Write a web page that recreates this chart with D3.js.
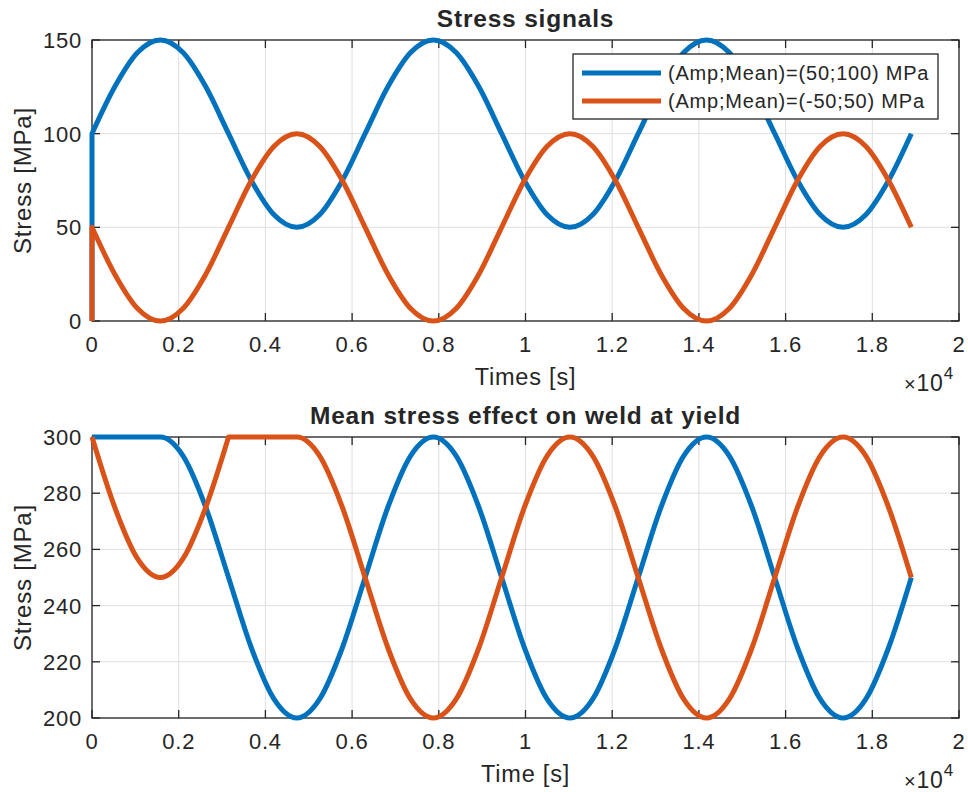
<!DOCTYPE html>
<html lang="en">
  <head>
    <meta charset="utf-8" />
    <title>Stress signals</title>
    <script src="https://d3js.org/d3.v7.min.js"></script>
    <style>
      body { margin: 0; background: #fff; }
      text { font-family: "Liberation Sans", Arial, Helvetica, sans-serif; fill: #262626; letter-spacing: 0.8px; }
    </style>
  </head>
  <body>
    <script type="text/javascript">
      // sample times [s]
      const times = [0, 525, 1050, 1575, 2100, 2625, 3150, 3675, 4200, 4725, 5250, 5775,
        6300, 6825, 7350, 7875, 8400, 8925, 9450, 9975, 10500, 11025, 11550, 12075,
        12600, 13125, 13650, 14175, 14700, 15225, 15750, 16275, 16800, 17325, 17850, 18375, 18900];

      // top plot starts with a jump at t = 0
      const timesTop = [0].concat(times);

      const topBlue = [0, 100, 125, 143.3, 150, 143.3, 125, 100, 75, 56.7, 50, 56.7, 75,
        100, 125, 143.3, 150, 143.3, 125, 100, 75, 56.7, 50, 56.7, 75,
        100, 125, 143.3, 150, 143.3, 125, 100, 75, 56.7, 50, 56.7, 75, 100];
      const topOrange = [0, 50, 25, 6.7, 0, 6.7, 25, 50, 75, 93.3, 100, 93.3, 75,
        50, 25, 6.7, 0, 6.7, 25, 50, 75, 93.3, 100, 93.3, 75,
        50, 25, 6.7, 0, 6.7, 25, 50, 75, 93.3, 100, 93.3, 75, 50];

      const bottomBlue = [300, 300, 300, 300, 293.3, 275, 250, 225, 206.7, 200, 206.7, 225,
        250, 275, 293.3, 300, 293.3, 275, 250, 225, 206.7, 200, 206.7, 225,
        250, 275, 293.3, 300, 293.3, 275, 250, 225, 206.7, 200, 206.7, 225, 250];
      const bottomOrange = [300, 275, 256.7, 250, 256.7, 275, 300, 300, 300, 300, 293.3, 275,
        250, 225, 206.7, 200, 206.7, 225, 250, 275, 293.3, 300, 293.3, 275,
        250, 225, 206.7, 200, 206.7, 225, 250, 275, 293.3, 300, 293.3, 275, 250];

      const xTicks = [0, 2000, 4000, 6000, 8000, 10000, 12000, 14000, 16000, 18000, 20000];
      const xTickLabels = ["0", "0.2", "0.4", "0.6", "0.8", "1", "1.2", "1.4", "1.6", "1.8", "2"];
      const yTicksTop = [0, 50, 100, 150];
      const yTicksBottom = [200, 220, 240, 260, 280, 300];
      const legendLabels = ["(Amp;Mean)=(50;100) MPa", "(Amp;Mean)=(-50;50) MPa"];

      const blue = "#0072bd";
      const orange = "#d95319";

      const w = 968;
      const h = 792;
      const left = 92;
      const right = 959;

      const svg = d3.select("body").append("svg").attr("width", w).attr("height", h);

      const x = d3.scaleLinear().domain([0, 20000]).range([left, right]);

      // smooth line, broken at given indices (jumps / corners)
      function linePath(ts, vs, y, breaks) {
        const pts = ts.map((t, i) => [x(t), y(vs[i])]);
        const line = d3.line().curve(d3.curveMonotoneX);
        const cuts = [0].concat(breaks, [pts.length - 1]);
        let d = "";
        for (let i = 0; i < cuts.length - 1; i++) {
          const s = line(pts.slice(cuts[i], cuts[i + 1] + 1));
          d += i === 0 ? s : "L" + s.slice(1);
        }
        return d;
      }

      function drawAxes(top, bottom, yDomain, yTicks, title, xLabel, yLabel) {
        const y = d3.scaleLinear().domain(yDomain).range([bottom, top]);
        const g = svg.append("g");

        // grid
        g.selectAll(".gx").data(xTicks).enter().append("line")
          .attr("x1", (d) => x(d)).attr("x2", (d) => x(d))
          .attr("y1", top).attr("y2", bottom)
          .attr("stroke", "#dfdfdf").attr("stroke-width", 1);
        g.selectAll(".gy").data(yTicks).enter().append("line")
          .attr("x1", left).attr("x2", right)
          .attr("y1", (d) => y(d)).attr("y2", (d) => y(d))
          .attr("stroke", "#dfdfdf").attr("stroke-width", 1);

        // axes box
        g.append("rect")
          .attr("x", left).attr("y", top)
          .attr("width", right - left).attr("height", bottom - top)
          .attr("fill", "none").attr("stroke", "#262626").attr("stroke-width", 1.3);

        // inward ticks on all four sides
        const tl = 8;
        xTicks.forEach((t) => {
          g.append("line").attr("x1", x(t)).attr("x2", x(t)).attr("y1", bottom).attr("y2", bottom - tl)
            .attr("stroke", "#262626").attr("stroke-width", 1.3);
          g.append("line").attr("x1", x(t)).attr("x2", x(t)).attr("y1", top).attr("y2", top + tl)
            .attr("stroke", "#262626").attr("stroke-width", 1.3);
        });
        yTicks.forEach((t) => {
          g.append("line").attr("x1", left).attr("x2", left + tl).attr("y1", y(t)).attr("y2", y(t))
            .attr("stroke", "#262626").attr("stroke-width", 1.3);
          g.append("line").attr("x1", right).attr("x2", right - tl).attr("y1", y(t)).attr("y2", y(t))
            .attr("stroke", "#262626").attr("stroke-width", 1.3);
        });

        // tick labels
        g.selectAll(".xl").data(xTicks).enter().append("text")
          .attr("x", (d) => x(d)).attr("y", bottom + 31)
          .attr("text-anchor", "middle").attr("font-size", "22px")
          .text((d, i) => xTickLabels[i]);
        g.selectAll(".yl").data(yTicks).enter().append("text")
          .attr("x", left - 10).attr("y", (d) => y(d) + 8)
          .attr("text-anchor", "end").attr("font-size", "22px")
          .text((d) => d);

        // exponent
        const ex = g.append("text").attr("x", 904).attr("y", bottom + 70).attr("font-size", "23px");
        ex.append("tspan").attr("font-size", "20px").text("\u00d7");
        ex.append("tspan").text("10");
        ex.append("tspan").attr("dy", -12).attr("font-size", "17px").text("4");

        // title and labels
        g.append("text").attr("x", (left + right) / 2).attr("y", top - 13)
          .attr("text-anchor", "middle").attr("font-size", "24.5px").attr("font-weight", "bold")
          .attr("fill", "#000").text(title);
        g.append("text").attr("x", (left + right) / 2).attr("y", bottom + 64)
          .attr("text-anchor", "middle").attr("font-size", "23.5px").text(xLabel);
        g.append("text")
          .attr("transform", "translate(31," + (top + bottom) / 2 + ") rotate(-90)")
          .attr("text-anchor", "middle").attr("font-size", "24px").text(yLabel);

        return y;
      }

      const yTop = drawAxes(40, 321, [0, 150], yTicksTop, "Stress signals", "Times [s]", "Stress [MPa]");
      const yBottom = drawAxes(437, 718, [200, 300], yTicksBottom,
        "Mean stress effect on weld at yield", "Time [s]", "Stress [MPa]");

      const lines = [
        { ts: timesTop, vs: topBlue, y: yTop, breaks: [1], color: blue },
        { ts: timesTop, vs: topOrange, y: yTop, breaks: [1], color: orange },
        { ts: times, vs: bottomBlue, y: yBottom, breaks: [], color: blue },
        { ts: times, vs: bottomOrange, y: yBottom, breaks: [6], color: orange },
      ];

      svg.selectAll("path.series").data(lines).enter().append("path")
        .attr("class", "series")
        .attr("d", (d) => linePath(d.ts, d.vs, d.y, d.breaks))
        .attr("fill", "none")
        .attr("stroke", (d) => d.color)
        .attr("stroke-width", 5)
        .attr("stroke-linejoin", "round")
        .attr("stroke-linecap", "butt");

      // legend
      const lg = svg.append("g");
      lg.append("rect").attr("x", 573).attr("y", 54).attr("width", 365).attr("height", 65)
        .attr("fill", "#fff").attr("stroke", "#262626").attr("stroke-width", 1.3);
      [blue, orange].forEach((c, i) => {
        lg.append("line").attr("x1", 582).attr("x2", 661)
          .attr("y1", 73 + i * 28).attr("y2", 73 + i * 28)
          .attr("stroke", c).attr("stroke-width", 5);
        lg.append("text").attr("x", 668).attr("y", 80 + i * 28)
          .attr("font-size", "20px").text(legendLabels[i]);
      });
    </script>
  </body>
</html>
